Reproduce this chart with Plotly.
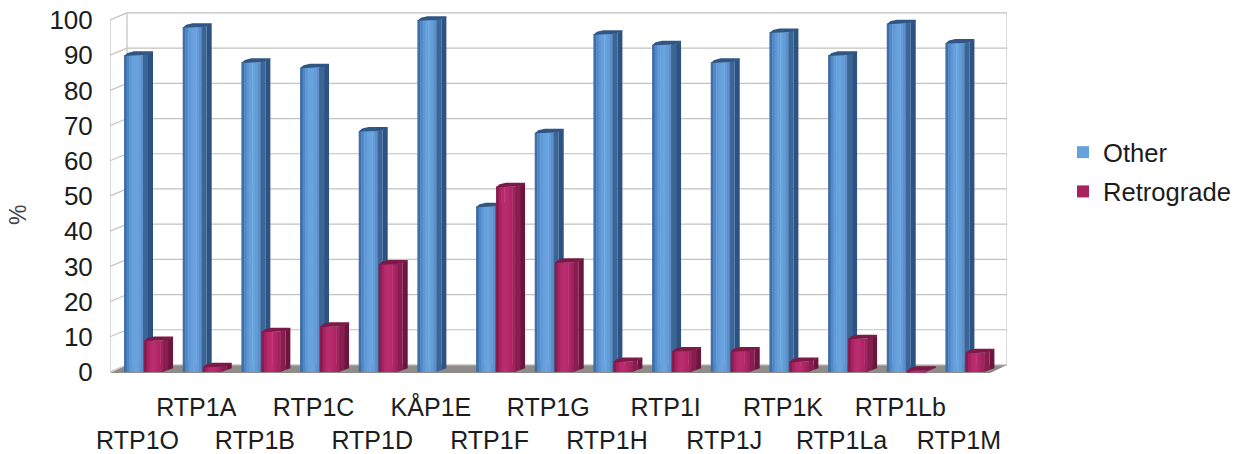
import plotly.graph_objects as go

categories = ["RTP1O","RTP1A","RTP1B","RTP1C","RTP1D","KÅP1E","RTP1F","RTP1G","RTP1H","RTP1I","RTP1J","RTP1K","RTP1La","RTP1Lb","RTP1M"]
other = [90,98,88,86.5,68.5,100,47,68,96,93,88,96.5,90,99,93.5]
retrograde = [9,1.5,11.5,13,30.7,0,52.7,31.2,3,6,6,3,9.5,0.5,5.5]
y_ticks = list(range(0,101,10))

W,H = 1243,454
PX_CAT = 58.67; PX_VAL = 3.52
LEFT,ZERO_Y = 110,372
DEPTH_X,DEPTH_V = 17/PX_CAT, 2.0
BAR_DX,BAR_DV = 10/PX_CAT, 1.1
XR = [-0.5, 14.5+DEPTH_X]
YR = [-0.4, 102.6]
xdom = [LEFT/W, (LEFT+(XR[1]-XR[0])*PX_CAT)/W]
ydom = [(H-(ZERO_Y-YR[0]*PX_VAL))/H, (H-(ZERO_Y-YR[1]*PX_VAL))/H]

BLUE_STRIPS = ["#3f6fa8","#5289c4","#5f98d6","#66a1de","#69a4e0","#649cd8","#5a90cc"]
RED_STRIPS  = ["#8a1a50","#a8225f","#b8296b","#bd2c70","#b8296b","#ac2564","#a02360"]
BLUE_SIDE = ["#3a6598","#2c5382"]
RED_SIDE  = ["#8a1d50","#6e153f"]
BLUE_TOP,RED_TOP = "#2f5684","#7c1947"

fig = go.Figure()

# walls and floor, on the base axes
x0,x1 = XR[0], XR[0]+15
fig.add_trace(go.Scatter(x=[x0,x0+DEPTH_X,x1+DEPTH_X,x1,x0],y=[-0.3,DEPTH_V,DEPTH_V,-0.3,-0.3],mode="lines",fill="toself",
    fillcolor="#8e8b88",line=dict(width=0),showlegend=False,hoverinfo="skip"))
gx,gy=[],[]
for v in y_ticks:
    gx+=[x0,x0+DEPTH_X,x1+DEPTH_X,None]; gy+=[v,v+DEPTH_V,v+DEPTH_V,None]
fig.add_trace(go.Scatter(x=gx,y=gy,mode="lines",line=dict(color="#c4c2bf",width=1.2),showlegend=False,hoverinfo="skip"))
fig.add_trace(go.Scatter(x=[x0,x0,None,x0+DEPTH_X,x0+DEPTH_X,None,x1+DEPTH_X,x1+DEPTH_X],
    y=[0,100,None,DEPTH_V,100+DEPTH_V,None,DEPTH_V,100+DEPTH_V],mode="lines",line=dict(color="#c4c2bf",width=1.2),showlegend=False,hoverinfo="skip"))

def series(name,values,strips,sides,top,left_px,xa,ya,legend_strip):
    w_px=19.0
    n=len(strips); sw=w_px/n/PX_CAT
    start=left_px/PX_CAT
    for k,c in enumerate(strips):
        fig.add_trace(go.Bar(x=list(range(15)),y=values,name=name,width=sw*1.15,offset=start+k*sw,
            marker=dict(color=c,line=dict(width=0)),xaxis=xa,yaxis=ya,legendgroup=name,
            showlegend=(k==legend_strip),cliponaxis=False,hoverinfo="skip"))
    end=start+w_px/PX_CAT
    for j,c in enumerate(sides):
        a=j/len(sides); b=(j+1)/len(sides)
        px,py=[],[]
        for i,v in enumerate(values):
            if v<=0: continue
            px+=[i+end+a*BAR_DX,i+end+b*BAR_DX,i+end+b*BAR_DX,i+end+a*BAR_DX,i+end+a*BAR_DX,None]
            py+=[a*BAR_DV,b*BAR_DV,v+BAR_DV*0.75,v+a*BAR_DV*0.75,a*BAR_DV,None]
        fig.add_trace(go.Scatter(x=px,y=py,mode="lines",fill="toself",fillcolor=c,line=dict(width=0),
            xaxis=xa,yaxis=ya,showlegend=False,hoverinfo="skip",cliponaxis=False))
    px,py=[],[]
    for i,v in enumerate(values):
        if v<=0: continue
        px+=[i+start,i+start+0.35*BAR_DX,i+start+BAR_DX,i+end+BAR_DX,i+end+BAR_DX,i+end,i+start,None]
        py+=[v-0.2,v+BAR_DV*0.6,v+BAR_DV,v+BAR_DV,v+BAR_DV*0.6,v,v-0.2,None]
    fig.add_trace(go.Scatter(x=px,y=py,mode="lines",fill="toself",fillcolor=top,line=dict(width=0),
        xaxis=xa,yaxis=ya,showlegend=False,hoverinfo="skip",cliponaxis=False))

series("Other",other,BLUE_STRIPS,BLUE_SIDE,BLUE_TOP,-15.3,"x2","y2",3)
series("Retrograde",retrograde,RED_STRIPS,RED_SIDE,RED_TOP,4.7,"x3","y3",1)

ticktext=[c if i%2 else "&nbsp;<br>"+c for i,c in enumerate(categories)]
TXT="#1c1c1c"; FONT="Liberation Sans, Arial, sans-serif"
hidden=dict(domain=xdom,range=XR,visible=False,fixedrange=True)
hiddeny=dict(domain=ydom,range=YR,visible=False,fixedrange=True)
fig.update_layout(
    width=W,height=H,autosize=False,margin=dict(l=0,r=0,t=0,b=0,autoexpand=False),
    paper_bgcolor="white",plot_bgcolor="rgba(0,0,0,0)",barmode="overlay",
    font=dict(family=FONT,color=TXT,size=25),
    xaxis=dict(domain=xdom,range=XR,showgrid=False,zeroline=False,showline=False,tickmode="array",automargin=False,
        tickvals=[i-0.03 for i in range(15)],ticktext=ticktext,tickangle=0,ticks="outside",ticklen=12,
        tickcolor="rgba(0,0,0,0)",tickfont=dict(size=25),fixedrange=True),
    yaxis=dict(domain=ydom,range=YR,showgrid=False,zeroline=False,showline=False,tickmode="array",automargin=False,
        tickvals=y_ticks,ticktext=[str(v) for v in y_ticks],ticks="outside",ticklen=11,
        tickcolor="rgba(0,0,0,0)",tickfont=dict(size=26),fixedrange=True),
    xaxis2=dict(hidden,overlaying="x",anchor="y2"),yaxis2=dict(hiddeny,overlaying="y",anchor="x2"),
    xaxis3=dict(hidden,overlaying="x",anchor="y3"),yaxis3=dict(hiddeny,overlaying="y",anchor="x3"),
    legend=dict(x=1063/W,y=1-(129/H),xanchor="left",yanchor="top",font=dict(size=25.6,color=TXT),
        tracegroupgap=3,itemclick=False,itemdoubleclick=False,bgcolor="rgba(0,0,0,0)"),
    showlegend=True,
    annotations=[dict(text="%",xref="paper",yref="paper",x=18/W,y=1-215/H,showarrow=False,textangle=-90,
        xanchor="center",yanchor="middle",font=dict(size=23,color="#444444"))],
)
fig.write_html("out.html",config=dict(displayModeBar=False),
    post_script="document.body.style.margin='0';document.body.style.overflow='hidden';")
